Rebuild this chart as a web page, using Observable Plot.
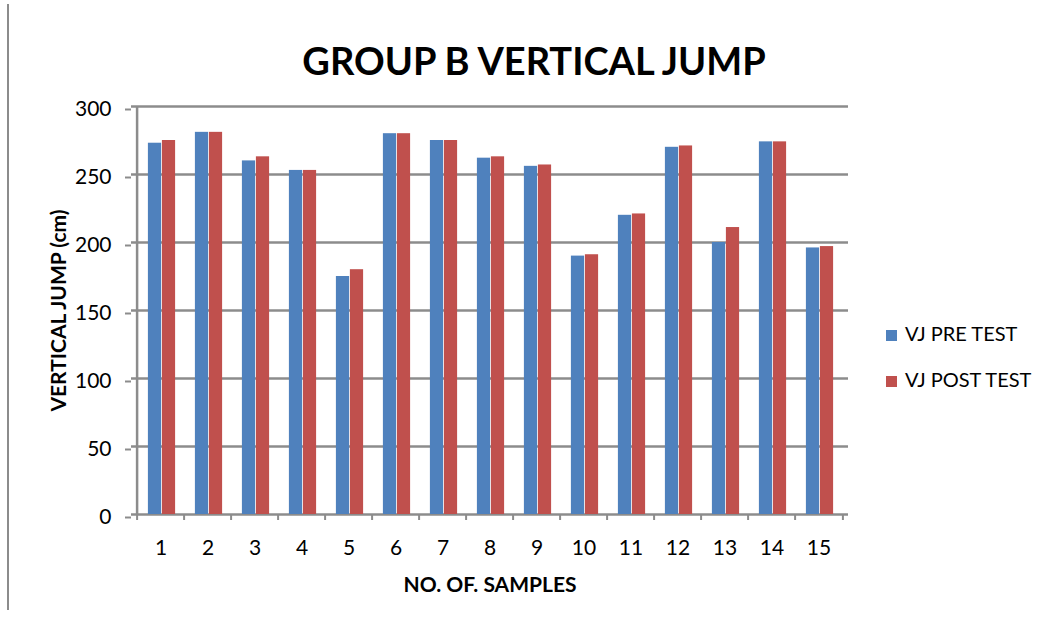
<!DOCTYPE html>
<html><head><meta charset="utf-8">
<script src="https://cdn.jsdelivr.net/npm/d3@7"></script>
<script src="https://cdn.jsdelivr.net/npm/@observablehq/plot@0.6"></script>
<style>
body{margin:0;background:#fff;font-family:Lato,"Open Sans",sans-serif;}
#wrap{position:relative;width:1049px;height:620px;overflow:hidden;}
#border{position:absolute;left:7px;top:4px;width:2px;height:606px;background:#8c8c8c;}
.leg{position:absolute;left:886px;height:20px;line-height:20px;font-size:20px;color:#000;white-space:nowrap;}
.leg span.sw{display:inline-block;width:11px;height:11px;margin-right:8px;vertical-align:0px;}
</style>
</head><body>
<div id="wrap"><div id="border"></div></div>
<script>
const titleText = "GROUP B VERTICAL JUMP";
const xTitle = "NO. OF. SAMPLES";
const yTitle = "VERTICAL JUMP (cm)";
const samples = [1,2,3,4,5,6,7,8,9,10,11,12,13,14,15];
const seriesNames = ["VJ PRE TEST", "VJ POST TEST"];
const seriesColors = ["#4F81BD", "#C0504D"];
const preTest  = [273,281,260,253,175,280,275,262,256,190,220,270,200,274,196];
const postTest = [275,281,263,253,180,280,275,263,257,191,221,271,211,274,197];
const yTicks = [0,50,100,150,200,250,300];

const W = 1049, H = 620;
const mL = 131, mR = 201, mT = 106, mB = 106;
const step = (W - mL - mR) / samples.length;
const grey = "#8c8c8c";

const rows = samples.flatMap((s, i) => [
  {sample: s, series: seriesNames[0], value: preTest[i]},
  {sample: s, series: seriesNames[1], value: postTest[i]}
]);

const chart = Plot.plot({
  width: W, height: H,
  marginLeft: mL, marginRight: mR, marginTop: mT, marginBottom: mB,
  style: {fontFamily: "Lato, 'Open Sans', sans-serif", fontSize: "21px", color: "#000", background: "transparent"},
  x: {type: "band", domain: samples, padding: 0, axis: null},
  y: {domain: [0, 300], axis: null},
  marks: [
    Plot.ruleY(yTicks, {stroke: grey, strokeWidth: 2.5}),
    Plot.ruleX([samples[0]], {x: d => d, dx: -step / 2, stroke: grey, strokeWidth: 2.5}),
    Plot.ruleX(samples, {x: d => d, dx: -step / 2, stroke: grey, strokeWidth: 2, insetTop: H - mT - mB, insetBottom: -6}),
    Plot.ruleX([samples[samples.length - 1]], {x: d => d, dx: step / 2, stroke: grey, strokeWidth: 2, insetTop: H - mT - mB, insetBottom: -6}),
    Plot.barY(rows.filter(d => d.series === seriesNames[0]), {x: "sample", y: "value", fill: seriesColors[0], insetLeft: step / 2 - 13, insetRight: step / 2 - 1}),
    Plot.barY(rows.filter(d => d.series === seriesNames[1]), {x: "sample", y: "value", fill: seriesColors[1], insetLeft: step / 2 + 1, insetRight: step / 2 - 15}),
    Plot.axisY({ticks: yTicks, tickSize: 6, tickPadding: 14, stroke: grey, strokeWidth: 2, fontSize: 21, dy: 3, label: null}),
    Plot.axisX({tickSize: 0, tickPadding: 26, fontSize: 21, label: null}),
    Plot.text([titleText], {frameAnchor: "top", dx: 44, dy: -44, fontSize: 38, fontWeight: "bold", lineAnchor: "middle"}),
    Plot.text([xTitle], {frameAnchor: "bottom", dy: 71, fontSize: 21, fontWeight: "bold", lineAnchor: "middle", textAnchor: "middle"}),
    Plot.text([yTitle], {frameAnchor: "left", dx: -72, rotate: -90, fontSize: 21, fontWeight: "bold", lineAnchor: "middle", textAnchor: "middle"})
  ]
});
const wrap = document.getElementById("wrap");
wrap.appendChild(chart);
chart.style.position = "absolute"; chart.style.left = "0px"; chart.style.top = "0px";

const legTops = [323, 369];
seriesNames.forEach((name, i) => {
  const d = document.createElement("div");
  d.className = "leg";
  d.style.top = legTops[i] + "px";
  const sw = document.createElement("span");
  sw.className = "sw"; sw.style.background = seriesColors[i];
  d.appendChild(sw);
  d.appendChild(document.createTextNode(name));
  wrap.appendChild(d);
});
</script>
</body></html>
